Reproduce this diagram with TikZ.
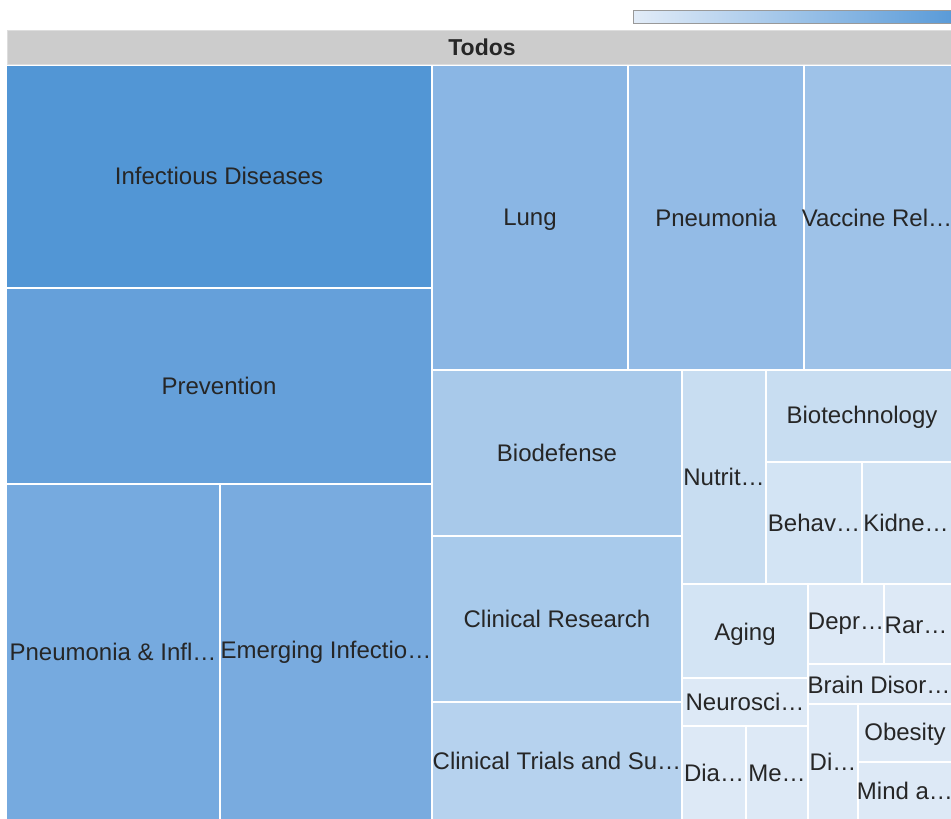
\documentclass[tikz,border=0pt]{standalone}
\usepackage{fontspec}
\setmainfont{Liberation Sans}
\definecolor{cA}{HTML}{5296D5}
\definecolor{cB}{HTML}{65A0DA}
\definecolor{cC}{HTML}{76AADF}
\definecolor{cD}{HTML}{79ABDF}
\definecolor{cE}{HTML}{8AB6E4}
\definecolor{cF}{HTML}{93BBE6}
\definecolor{cG}{HTML}{9EC2E8}
\definecolor{cH}{HTML}{A8C9EA}
\definecolor{cI}{HTML}{A8CAEB}
\definecolor{cJ}{HTML}{B6D2EE}
\definecolor{cK}{HTML}{C8DDF1}
\definecolor{cL}{HTML}{D3E4F4}
\definecolor{cM}{HTML}{DDE9F6}
\definecolor{txt}{HTML}{262626}
\definecolor{hdr}{HTML}{CCCCCC}
\definecolor{hdrline}{HTML}{DDDDDD}
\definecolor{legline}{HTML}{999999}
\definecolor{legL}{HTML}{E2ECF8}
\definecolor{legR}{HTML}{5598D7}
\newcommand\tmcell[7]{\node[cellbox, fill=#6, minimum width={(#4-#2)*1bp}, minimum height={(#5-#3)*1bp}] (#1) at ({(#2+#4)/2},{(#3+#5)/2}) {\makebox[0pt]{#7}};}
\begin{document}
\begin{tikzpicture}[x=1bp,y=-1bp,
  cellbox/.style={draw=none, inner sep=0pt, outer sep=0pt, text=txt, font=\fontsize{24bp}{28bp}\selectfont},
  hdrbox/.style={fill=hdr, draw=hdrline, line width=1bp, inner sep=0pt, outer sep=0pt},
  legbox/.style={draw=legline, line width=1.5bp, left color=legL, right color=legR, inner sep=0pt}]
\useasboundingbox (0,0) rectangle (951,819);
\clip (0,0) rectangle (951,819);
\fill[white] (0,0) rectangle (951,819);
% legend
\node[legbox, minimum width=330bp, minimum height=13bp, anchor=north west] (legend) at (632.5,10) {};
% header
\node[hdrbox, minimum width=960bp, minimum height=34bp, anchor=north west] (todos) at (7,30.5) {};
\node[text=txt, font=\bfseries\fontsize{23bp}{27bp}\selectfont, inner sep=0pt] (todoslabel) at (482,47.5) {Todos};
% cells
\tmcell{inf}{7}{66}{431}{285}{cA}{Infectious Diseases}
\fill[cA] (7,285) rectangle (431,287);
\tmcell{prev}{7}{289}{431}{483}{cB}{Prevention}
\tmcell{pni}{7}{485}{219}{819}{cC}{Pneumonia \& Infl…}
\tmcell{emer}{221}{485}{431}{819}{cD}{Emerging Infectio…}
\tmcell{lung}{433}{66}{627}{369}{cE}{}
\node[cellbox] (lunglabel) at (530,220) {Lung};
\tmcell{pneu}{629}{66}{803}{369}{cF}{Pneumonia}
\tmcell{vacc}{805}{66}{960}{369}{cG}{}
\node[cellbox] (vacclabel) at (877,218) {Vaccine Rel…};
\tmcell{biod}{433}{371}{681}{535}{cH}{Biodefense}
\tmcell{clres}{433}{537}{681}{701}{cI}{Clinical Research}
\tmcell{cltr}{433}{703}{681}{819}{cJ}{Clinical Trials and Su…}
\tmcell{nutr}{683}{371}{765}{583}{cK}{Nutrit…}
\tmcell{biot}{767}{371}{960}{461}{cK}{}
\node[cellbox] (biotlabel) at (862,417) {Biotechnology};
\tmcell{behav}{767}{463}{861}{583}{cL}{Behav…}
\tmcell{kidn}{863}{463}{960}{583}{cL}{}
\node[cellbox] (kidnlabel) at (906,523) {Kidne…};
\tmcell{aging}{683}{585}{807}{677}{cL}{}
\node[cellbox] (aginglabel) at (745,634) {Aging};
\tmcell{neuro}{683}{679}{807}{725}{cM}{Neurosci…}
\tmcell{dia}{683}{727}{745}{819}{cM}{Dia…}
\tmcell{me}{747}{727}{807}{819}{cM}{Me…}
\tmcell{depr}{809}{585}{883}{663}{cM}{Depr…}
\tmcell{rar}{885}{585}{960}{663}{cM}{}
\node[cellbox] (rarlabel) at (916,625) {Rar…};
\tmcell{brain}{809}{665}{960}{703}{cM}{}
\node[cellbox] (brainlabel) at (879,685) {Brain Disor…};
\tmcell{di}{809}{705}{857}{819}{cM}{Di…}
\tmcell{obes}{859}{705}{960}{761}{cM}{}
\node[cellbox] (obeslabel) at (905,734) {Obesity};
\tmcell{mind}{859}{763}{960}{819}{cM}{}
\node[cellbox] (mindlabel) at (905,791) {Mind a…};
\end{tikzpicture}
\end{document}
